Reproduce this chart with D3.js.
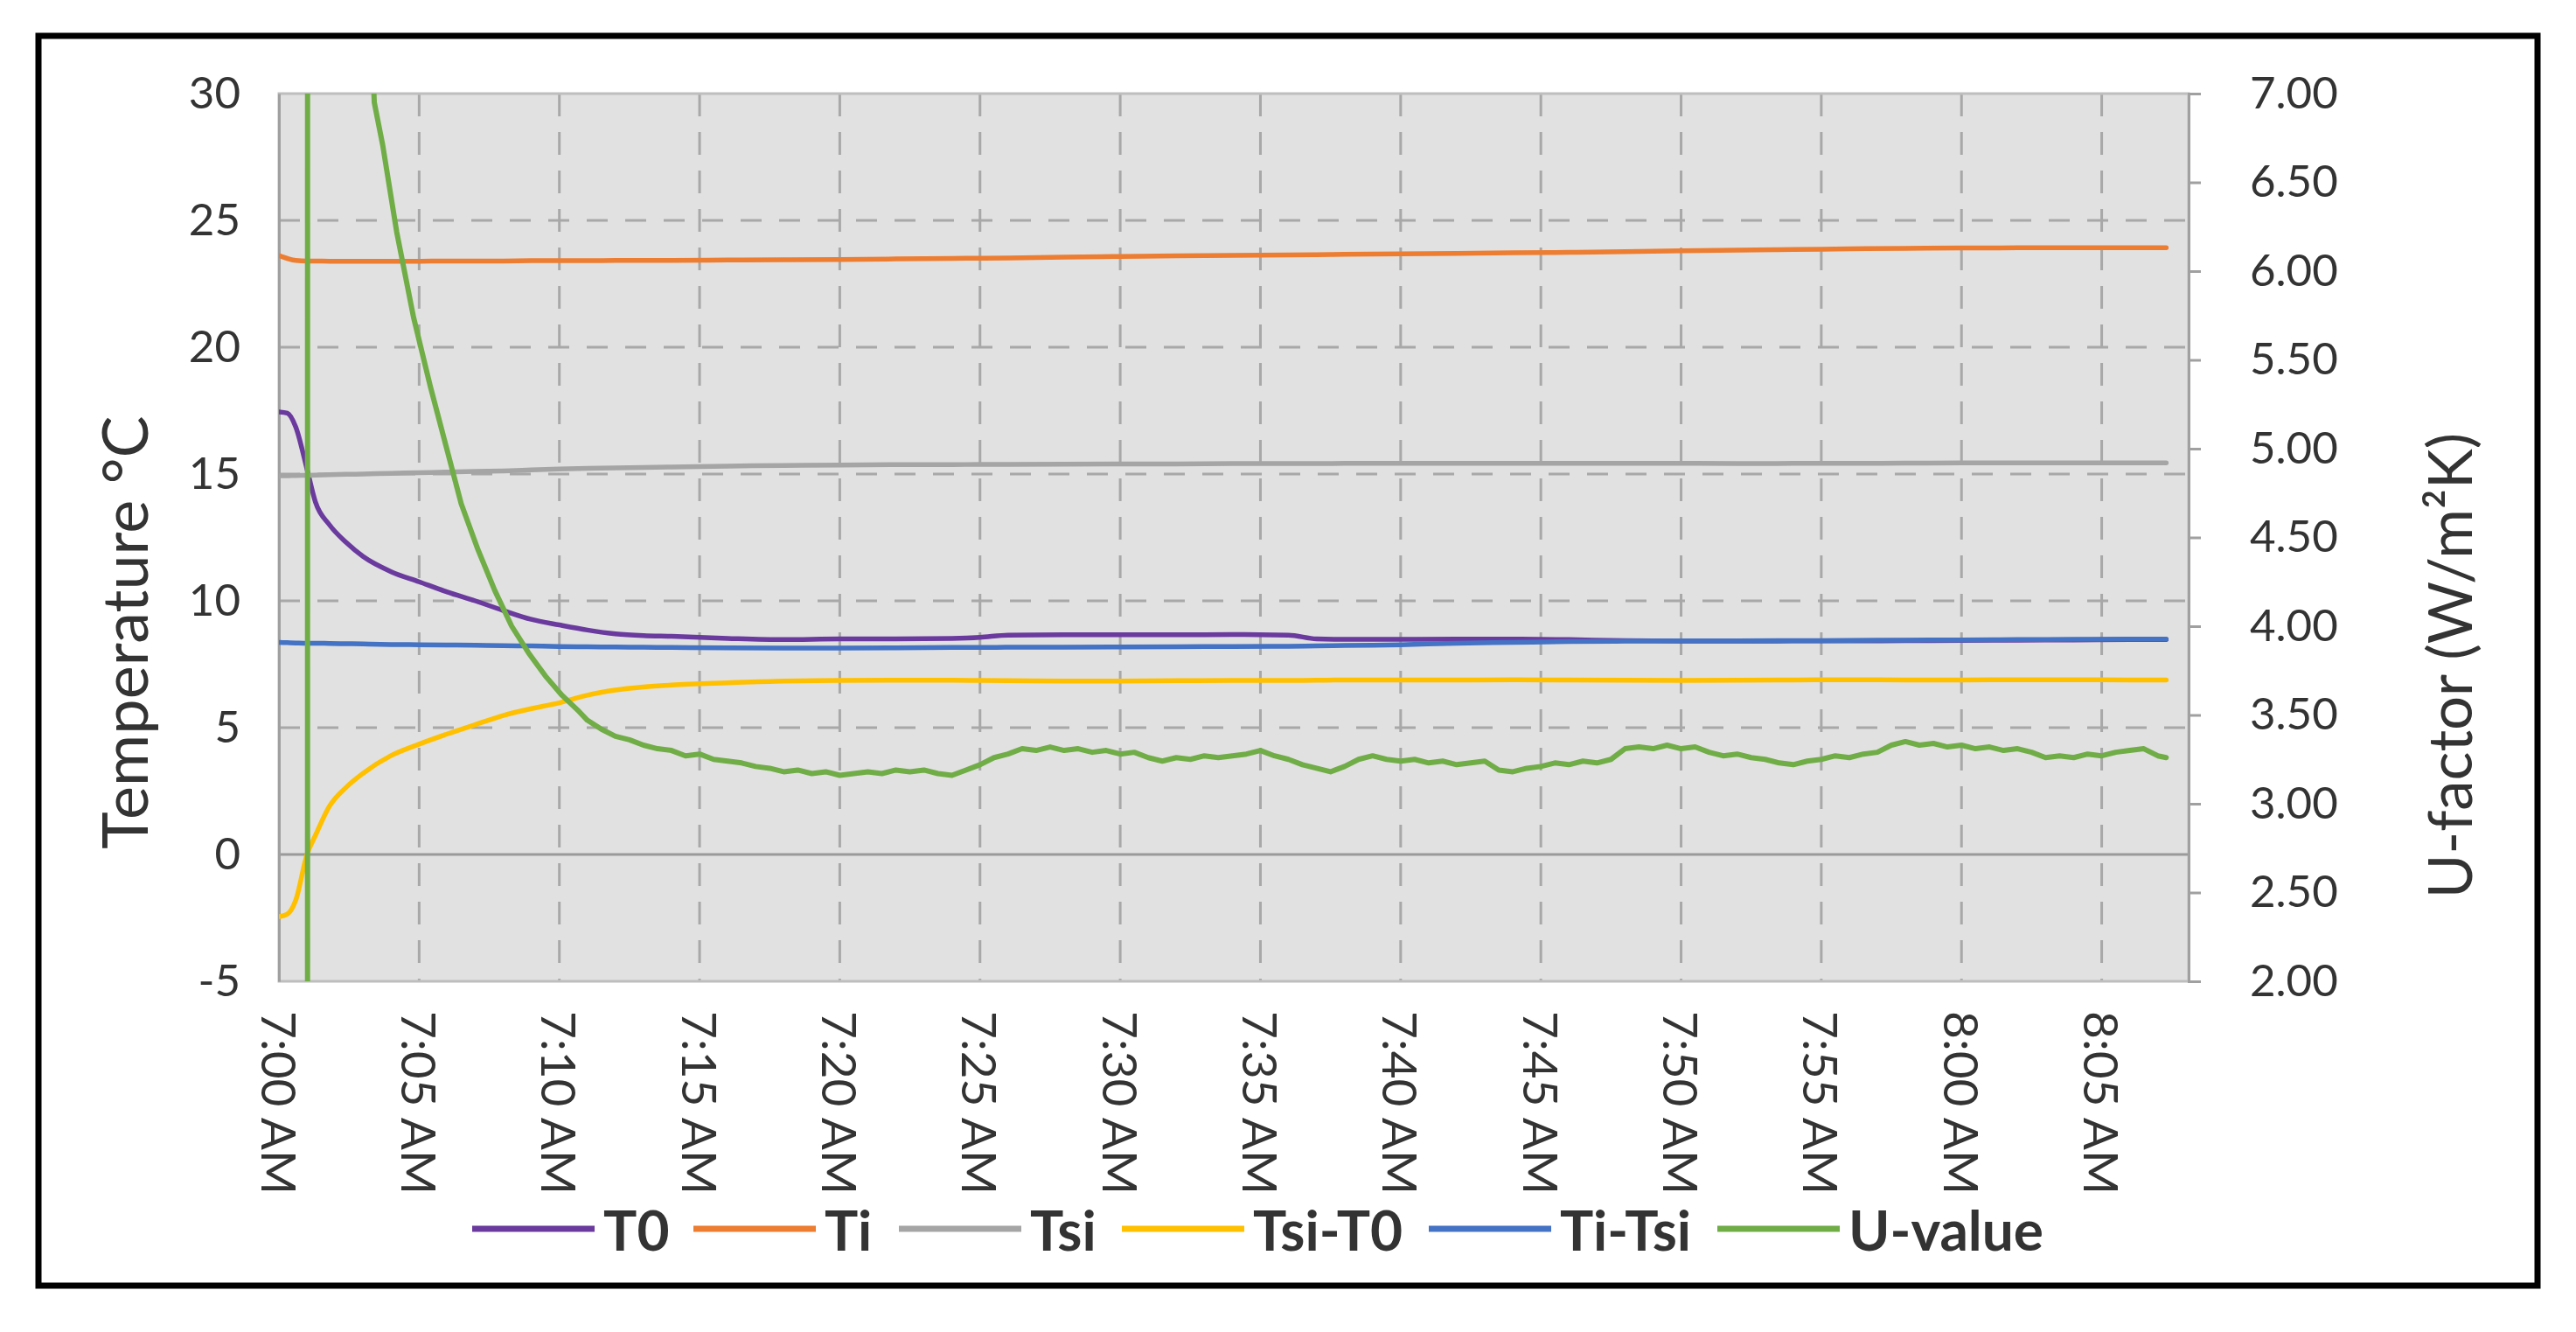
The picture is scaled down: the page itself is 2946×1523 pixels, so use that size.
<!DOCTYPE html>
<html>
<head>
<meta charset="utf-8">
<script src="https://cdn.jsdelivr.net/npm/d3@7"></script>
<style>
  html, body { margin: 0; padding: 0; background: #ffffff; }
  svg { display: block; }
  text { font-family: Lato, "Noto Sans", sans-serif; fill: #333333; }
</style>
</head>
<body>
<script>
// ---------------- DATA (minutes after 7:00 AM) ----------------
const seriesNames = ["T0", "Ti", "Tsi", "Tsi-T0", "Ti-Tsi", "U-value"];
const seriesColors = ["#6B3A9E", "#ED7D31", "#A5A5A5", "#FFC000", "#4472C4", "#70AD47"];

const tempTimes = [0, 0.3, 0.6, 1.0, 1.3, 1.8, 2.4, 3, 4, 5, 6, 7, 8, 9, 10, 11, 12, 13, 14, 16, 18, 20, 22, 24, 25, 26, 28, 30, 32, 34, 36, 37, 38, 40, 42, 44, 46, 48, 50, 52, 54, 56, 58, 60, 62, 64, 66, 67.3];

const T0 = [17.45, 17.4, 16.85, 15.2, 13.9, 13.0, 12.3, 11.75, 11.15, 10.75, 10.35, 10.0, 9.62, 9.27, 9.05, 8.85, 8.7, 8.63, 8.6, 8.52, 8.47, 8.5, 8.5, 8.52, 8.56, 8.65, 8.66, 8.66, 8.66, 8.67, 8.65, 8.5, 8.48, 8.48, 8.49, 8.49, 8.47, 8.43, 8.41, 8.41, 8.42, 8.42, 8.43, 8.44, 8.45, 8.46, 8.47, 8.47];

const Ti = [23.62, 23.5, 23.42, 23.4, 23.4, 23.39, 23.39, 23.39, 23.39, 23.39, 23.4, 23.4, 23.4, 23.41, 23.41, 23.41, 23.42, 23.42, 23.42, 23.44, 23.45, 23.46, 23.48, 23.5, 23.51, 23.52, 23.55, 23.58, 23.6, 23.62, 23.64, 23.65, 23.66, 23.68, 23.7, 23.72, 23.74, 23.77, 23.8, 23.83, 23.85, 23.88, 23.9, 23.91, 23.92, 23.92, 23.92, 23.92];

const Tsi = [14.93, 14.93, 14.94, 14.95, 14.96, 14.97, 14.99, 15.0, 15.03, 15.05, 15.08, 15.1, 15.12, 15.16, 15.2, 15.22, 15.24, 15.26, 15.28, 15.31, 15.34, 15.35, 15.37, 15.37, 15.38, 15.38, 15.39, 15.4, 15.4, 15.41, 15.41, 15.41, 15.42, 15.42, 15.42, 15.42, 15.42, 15.42, 15.42, 15.41, 15.42, 15.42, 15.43, 15.44, 15.44, 15.44, 15.44, 15.44];

const TsiT0 = [-2.45, -2.35, -1.8, 0.0, 0.75, 1.9, 2.65, 3.2, 3.9, 4.35, 4.75, 5.12, 5.48, 5.75, 5.98, 6.28, 6.48, 6.6, 6.68, 6.77, 6.84, 6.86, 6.87, 6.87, 6.86, 6.85, 6.84, 6.84, 6.85, 6.86, 6.86, 6.87, 6.88, 6.88, 6.88, 6.89, 6.88, 6.87, 6.86, 6.87, 6.88, 6.89, 6.88, 6.88, 6.89, 6.89, 6.88, 6.88];

const TiTsi = [8.36, 8.35, 8.34, 8.33, 8.33, 8.32, 8.31, 8.3, 8.28, 8.27, 8.26, 8.25, 8.23, 8.22, 8.2, 8.19, 8.18, 8.17, 8.16, 8.15, 8.14, 8.14, 8.15, 8.16, 8.16, 8.17, 8.17, 8.18, 8.19, 8.2, 8.21, 8.22, 8.24, 8.27, 8.33, 8.36, 8.4, 8.41, 8.42, 8.42, 8.43, 8.44, 8.45, 8.46, 8.47, 8.48, 8.49, 8.49];

const uTimes = [0, 0.5, 0.98, 1.06, 2.0, 2.7, 3.1, 3.4, 3.7, 4.2, 4.8, 5.4, 6.0, 6.5, 7.1, 7.7, 8.3, 8.9, 9.5, 10.1, 10.7,
  11.0, 11.5, 12.0, 12.5, 13.0, 13.5, 14.0, 14.5, 15.0, 15.5, 16.0, 16.5, 17.0, 17.5, 18.0, 18.5, 19.0, 19.5, 20.0, 20.5,
  21.0, 21.5, 22.0, 22.5, 23.0, 23.5, 24.0, 24.5, 25.0, 25.5, 26.0, 26.5, 27.0, 27.5, 28.0, 28.5, 29.0, 29.5, 30.0, 30.5,
  31.0, 31.5, 32.0, 32.5, 33.0, 33.5, 34.0, 34.5, 35.0, 35.5, 36.0, 36.5, 37.0, 37.5, 38.0, 38.5, 39.0, 39.5, 40.0, 40.5,
  41.0, 41.5, 42.0, 42.5, 43.0, 43.5, 44.0, 44.5, 45.0, 45.5, 46.0, 46.5, 47.0, 47.5, 48.0, 48.5, 49.0, 49.5, 50.0, 50.5,
  51.0, 51.5, 52.0, 52.5, 53.0, 53.5, 54.0, 54.5, 55.0, 55.5, 56.0, 56.5, 57.0, 57.5, 58.0, 58.5, 59.0, 59.5, 60.0, 60.5,
  61.0, 61.5, 62.0, 62.5, 63.0, 63.5, 64.0, 64.5, 65.0, 65.5, 66.0, 66.5, 67.0, 67.3];

const Uvalue = [-25, -60, -400, 400, 30, 11, 8.1, 6.95, 6.71, 6.22, 5.74, 5.35, 4.99, 4.69, 4.43, 4.2, 4.0, 3.85, 3.72, 3.61, 3.52,
  3.47, 3.42, 3.38, 3.36, 3.33, 3.31, 3.30, 3.27, 3.28, 3.25, 3.24, 3.23, 3.21, 3.20, 3.18, 3.19, 3.17, 3.18, 3.16, 3.17,
  3.18, 3.17, 3.19, 3.18, 3.19, 3.17, 3.16, 3.19, 3.22, 3.26, 3.28, 3.31, 3.30, 3.32, 3.30, 3.31, 3.29, 3.30, 3.28, 3.29,
  3.26, 3.24, 3.26, 3.25, 3.27, 3.26, 3.27, 3.28, 3.30, 3.27, 3.25, 3.22, 3.20, 3.18, 3.21, 3.25, 3.27, 3.25, 3.24, 3.25,
  3.23, 3.24, 3.22, 3.23, 3.24, 3.19, 3.18, 3.20, 3.21, 3.23, 3.22, 3.24, 3.23, 3.25, 3.31, 3.32, 3.31, 3.33, 3.31, 3.32,
  3.29, 3.27, 3.28, 3.26, 3.25, 3.23, 3.22, 3.24, 3.25, 3.27, 3.26, 3.28, 3.29, 3.33, 3.35, 3.33, 3.34, 3.32, 3.33, 3.31,
  3.32, 3.30, 3.31, 3.29, 3.26, 3.27, 3.26, 3.28, 3.27, 3.29, 3.30, 3.31, 3.27, 3.26];

const xTickMinutes = [0, 5, 10, 15, 20, 25, 30, 35, 40, 45, 50, 55, 60, 65];
const xTickLabels = ["7:00 AM", "7:05 AM", "7:10 AM", "7:15 AM", "7:20 AM", "7:25 AM", "7:30 AM", "7:35 AM", "7:40 AM", "7:45 AM", "7:50 AM", "7:55 AM", "8:00 AM", "8:05 AM"];
const yLeftTicks = [30, 25, 20, 15, 10, 5, 0, -5];
const yLeftLabels = ["30", "25", "20", "15", "10", "5", "0", "-5"];
const yRightTicks = [7.0, 6.5, 6.0, 5.5, 5.0, 4.5, 4.0, 3.5, 3.0, 2.5, 2.0];
const yRightLabels = ["7.00", "6.50", "6.00", "5.50", "5.00", "4.50", "4.00", "3.50", "3.00", "2.50", "2.00"];
const yLeftTitle = "Temperature °C";
const yRightTitle = "U-factor (W/m²K)";

// ---------------- LAYOUT ----------------
const W = 2946, H = 1523;
const P = { left: 319, right: 2503, top: 107, bottom: 1122 };

const svg = d3.select("body").append("svg").attr("width", W).attr("height", H);
svg.append("rect").attr("width", W).attr("height", H).attr("fill", "#ffffff");

// outer frame
svg.append("rect").attr("x", 44).attr("y", 41).attr("width", 2858).attr("height", 1429)
  .attr("fill", "none").attr("stroke", "#000").attr("stroke-width", 7);

const x = d3.scaleLinear().domain([0, 68.1]).range([P.left, P.right]);
const yL = d3.scaleLinear().domain([-5, 30]).range([P.bottom, P.top]);
const yR = d3.scaleLinear().domain([2, 7]).range([P.bottom, P.top]);

// plot background
svg.append("rect").attr("x", P.left).attr("y", P.top)
  .attr("width", P.right - P.left).attr("height", P.bottom - P.top)
  .attr("fill", "#E1E1E1");

// gridlines
const grid = svg.append("g");
grid.selectAll(".hg").data(yLeftTicks.filter(v => v !== 30 && v !== -5 && v !== 0)).join("line")
  .attr("x1", P.left).attr("x2", P.right)
  .attr("y1", d => yL(d)).attr("y2", d => yL(d))
  .attr("stroke", "#A8A8A8").attr("stroke-width", 3).attr("stroke-dasharray", "24,20");
grid.selectAll(".vg").data(xTickMinutes.filter(m => m > 0)).join("line")
  .attr("x1", d => x(d)).attr("x2", d => x(d))
  .attr("y1", P.top).attr("y2", P.bottom)
  .attr("stroke", "#A8A8A8").attr("stroke-width", 3).attr("stroke-dasharray", "26,18");

// plot border
svg.append("rect").attr("x", P.left).attr("y", P.top)
  .attr("width", P.right - P.left).attr("height", P.bottom - P.top)
  .attr("fill", "none").attr("stroke", "#BEBEBE").attr("stroke-width", 3);
// zero axis line
svg.append("line").attr("x1", P.left).attr("x2", P.right)
  .attr("y1", yL(0)).attr("y2", yL(0)).attr("stroke", "#9A9A9A").attr("stroke-width", 3);

// left axis
const axL = d3.axisLeft(yL).tickValues(yLeftTicks).tickSize(0).tickPadding(44)
  .tickFormat((d, i) => yLeftLabels[i]);
const gL = svg.append("g").attr("transform", `translate(${P.left},0)`).call(axL);
gL.select(".domain").attr("stroke", "#A0A0A0").attr("stroke-width", 3);
gL.selectAll("text").attr("font-size", 51).attr("fill", "#333").style("font-family", "Lato");

// right axis
const axR = d3.axisRight(yR).tickValues(yRightTicks).tickSize(14).tickPadding(56)
  .tickFormat((d, i) => yRightLabels[i]);
const gR = svg.append("g").attr("transform", `translate(${P.right},0)`).call(axR);
gR.select(".domain").attr("stroke", "#A0A0A0").attr("stroke-width", 3);
gR.selectAll(".tick line").attr("stroke", "#A0A0A0").attr("stroke-width", 3);
gR.selectAll("text").attr("font-size", 51).attr("fill", "#333").style("font-family", "Lato");

// bottom axis labels (rotated)
const axB = d3.axisBottom(x).tickValues(xTickMinutes).tickSize(0)
  .tickFormat((d, i) => xTickLabels[i]);
const gB = svg.append("g").attr("transform", `translate(0,${P.bottom})`).call(axB);
gB.select(".domain").remove();
gB.selectAll("text")
  .attr("font-size", 55).attr("fill", "#333").style("font-family", "Lato")
  .attr("text-anchor", "start").attr("dy", null).attr("y", 0)
  .attr("dominant-baseline", "central")
  .attr("transform", "translate(0,34) rotate(90)");

// axis titles
svg.append("text").attr("transform", "translate(141,723) rotate(-90)")
  .attr("text-anchor", "middle").attr("dominant-baseline", "central")
  .attr("font-size", 72).text(yLeftTitle);
svg.append("text").attr("transform", "translate(2800,761) rotate(-90)")
  .attr("text-anchor", "middle").attr("dominant-baseline", "central")
  .attr("font-size", 69).text(yRightTitle);

// clip
svg.append("clipPath").attr("id", "plotclip").append("rect")
  .attr("x", P.left).attr("y", P.top).attr("width", P.right - P.left).attr("height", P.bottom - P.top);
const lines = svg.append("g").attr("clip-path", "url(#plotclip)");

const tempSeries = [T0, Ti, Tsi, TsiT0, TiTsi];
const lineL = d3.line().x(d => x(d[0])).y(d => yL(d[1])).curve(d3.curveMonotoneX);
tempSeries.forEach((vals, i) => {
  lines.append("path").datum(tempTimes.map((t, j) => [t, vals[j]]))
    .attr("d", lineL).attr("fill", "none")
    .attr("stroke", seriesColors[i]).attr("stroke-width", 5.5)
    .attr("stroke-linejoin", "round").attr("stroke-linecap", "round");
});
const lineR = d3.line().x(d => x(d[0])).y(d => yR(d[1]));
lines.append("path").datum(uTimes.map((t, j) => [t, Uvalue[j]]))
  .attr("d", lineR).attr("fill", "none")
  .attr("stroke", seriesColors[5]).attr("stroke-width", 6)
  .attr("stroke-linejoin", "round").attr("stroke-linecap", "round");

// legend
const legendLineStarts = [540, 793, 1028, 1283, 1634, 1964];
const leg = svg.append("g").attr("transform", "translate(0,1405)");
seriesNames.forEach((name, i) => {
  const lx = legendLineStarts[i];
  leg.append("line").attr("x1", lx).attr("x2", lx + 140).attr("y1", 0).attr("y2", 0)
    .attr("stroke", seriesColors[i]).attr("stroke-width", 7);
  leg.append("text").attr("x", lx + 150).attr("y", 0)
    .attr("dominant-baseline", "central").attr("font-size", 64).attr("font-weight", "bold")
    .attr("fill", "#222").text(name);
});
</script>
</body>
</html>
